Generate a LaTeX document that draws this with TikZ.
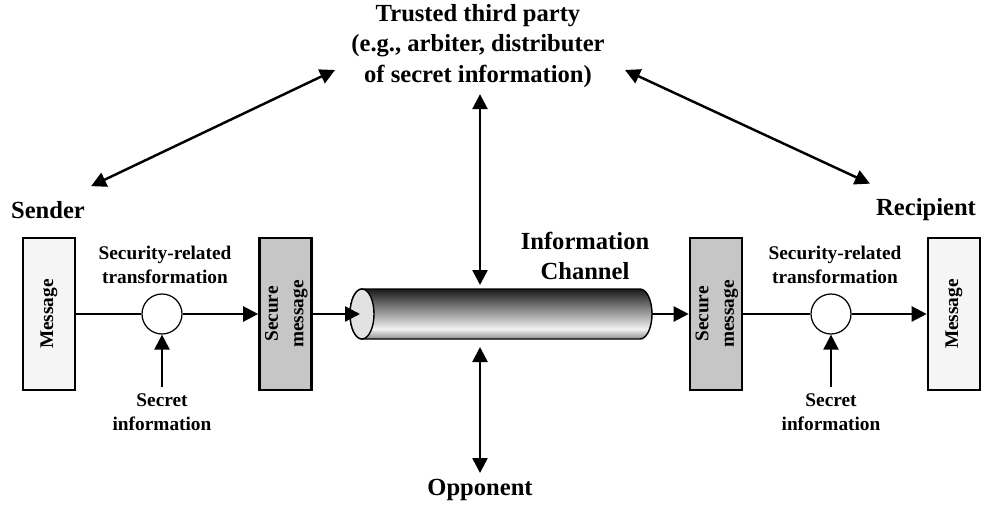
\documentclass[tikz,border=0pt]{standalone}
\usepackage{fontspec}
\setmainfont{Liberation Serif}
\usetikzlibrary{arrows.meta, positioning, calc}

\definecolor{msgfill}{HTML}{F5F5F5}
\definecolor{secfill}{HTML}{C6C6C6}
\definecolor{pipeface}{HTML}{E2E2E2}
\definecolor{pipetop}{HTML}{1A1A1A}
\definecolor{pipelight}{HTML}{F2F2F2}
\definecolor{pipebot}{HTML}{8C8C8C}
\pgfdeclareverticalshading{pipe}{100bp}{color(0bp)=(pipebot); color(25bp)=(pipebot); color(35bp)=(pipelight); color(75bp)=(pipetop); color(100bp)=(pipetop)}

\begin{document}
\begin{tikzpicture}[x=0.02cm, y=0.02cm,
      lbl/.style={font=\fontsize{14}{17.5}\selectfont\bfseries, align=center},
      small/.style={font=\fontsize{11}{13.5}\selectfont\bfseries, align=center},
      msgbox/.style={rectangle, draw, line width=1.5pt, fill=msgfill, minimum width=1.04cm, minimum height=3.04cm, inner sep=0pt, font=\fontsize{11}{14.5}\selectfont\bfseries},
      secbox/.style={msgbox, fill=secfill},
      xform/.style={circle, draw, line width=0.7pt, fill=white, minimum size=0.8cm, inner sep=0pt},
      arr/.style={-{Triangle[length=0.3cm, width=0.3cm]}, line width=1.3pt},
      dbl/.style={{Triangle[length=0.3cm, width=0.3cm]}-{Triangle[length=0.3cm, width=0.3cm]}, line width=1.4pt},
      plain/.style={line width=1.3pt}]

      \useasboundingbox (0,0) rectangle (982,504);

      \node[lbl] (ttp) at (478,458) {Trusted third party\\(e.g., arbiter, distributer\\of secret information)};
      \node[lbl] (sender) at (48,294) {Sender};
      \node[lbl] (recip) at (926,294) {Recipient};
      \node[lbl] (channel) at (585,248) {Information\\Channel};
      \node[lbl] (opp) at (480,14) {Opponent};

      % Sender side
      \node[msgbox] (msgL) at (49,190) {\rotatebox{90}{Message}};
      \node[xform] (xfL) at (162,190) {};
      \node[small] (xfLtxt) at (165,239) {Security-related\\transformation};
      \node[small] (siL) at (162,92) {Secret\\information};
      \node[secbox] (secL) at (285.5,190) {\rotatebox{90}{\begin{tabular}{@{}c@{}}Secure\\message\end{tabular}}};

      % Recipient side
      \node[secbox] (secR) at (716,190) {\rotatebox{90}{\begin{tabular}{@{}c@{}}Secure\\message\end{tabular}}};
      \node[xform] (xfR) at (831,190) {};
      \node[small] (xfRtxt) at (835,239) {Security-related\\transformation};
      \node[small] (siR) at (831,92) {Secret\\information};
      \node[msgbox] (msgR) at (954,190) {\rotatebox{90}{Message}};

      % Channel
      \path[shading=pipe, draw, line width=0.8pt] (362,215) -- (640,215)
        arc[start angle=90, end angle=-90, x radius=12, y radius=25] -- (362,165)
        arc[start angle=270, end angle=90, x radius=12, y radius=25] -- cycle;
      \draw[fill=pipeface, line width=0.8pt] (362,190) ellipse[x radius=12, y radius=25];
      \coordinate (chL) at (360,190);
      \coordinate (chR) at (652,190);
      \coordinate (chT) at (480,219);
      \coordinate (chB) at (480,157);
      \coordinate (ttpL) at (335,434);
      \coordinate (ttpR) at (625,434);

      % Arrows
      \draw[plain] (msgL) -- (xfL);
      \draw[arr] (xfL) -- (secL);
      \draw[arr] (secL) -- (chL);
      \draw[arr] (chR) -- (secR);
      \draw[plain] (secR) -- (xfR);
      \draw[arr] (xfR) -- (msgR);
      \draw[arr] (siL) -- (xfL);
      \draw[arr] (siR) -- (xfR);

      \draw[dbl] (ttp.south -| chT) -- (chT);
      \draw[dbl] (chB) -- (opp);
      \draw[dbl] ([yshift=0.18cm]sender.north east) -- (ttpL);
      \draw[dbl] (ttpR) -- ([yshift=0.18cm]recip.north west);
    \end{tikzpicture}
\end{document}
